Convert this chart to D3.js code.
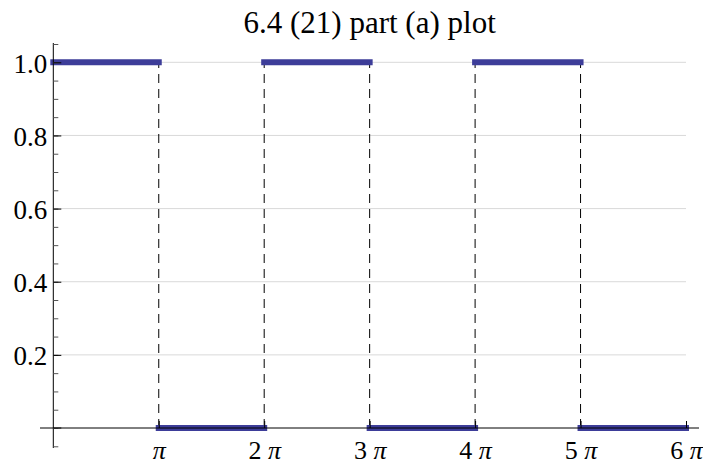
<!DOCTYPE html>
<html>
<head>
<meta charset="utf-8">
<script src="https://cdn.jsdelivr.net/npm/d3@7"></script>
<style>
  body { margin: 0; background: #fff; }
  svg { display: block; }
  text { font-family: "Liberation Serif", "Times New Roman", serif; fill: #000; }
</style>
</head>
<body>
<script>
// ---- data ----
const title = "6.4 (21) part (a) plot";
const segStarts = [0, 1, 2, 3, 4, 5];     // in multiples of π
const segEnds   = [1, 2, 3, 4, 5, 6];     // in multiples of π
const segValues = [1, 0, 1, 0, 1, 0];
const jumps     = [1, 2, 3, 4, 5];        // discontinuities (multiples of π)
const xTicks    = [1, 2, 3, 4, 5, 6];
const xTickLabels = ["π", "2 π", "3 π", "4 π", "5 π", "6 π"];
const yTicks    = [0.2, 0.4, 0.6, 0.8, 1.0];
const yMinor    = d3.range(-1, 22).map(i => i * 0.05);

const W = 703, H = 465;
const PI = Math.PI;

const x = d3.scaleLinear().domain([0, 6 * PI]).range([53.3, 686]);
const y = d3.scaleLinear().domain([0, 1]).range([428, 62.3]);

const svg = d3.select("body").append("svg").attr("width", W).attr("height", H);

// title
svg.append("text")
  .attr("x", (x(0) + x(6 * PI)) / 2).attr("y", 33)
  .attr("text-anchor", "middle")
  .style("font-size", "31px")
  .text(title);

// gridlines
svg.append("g").selectAll("line").data(yTicks).join("line")
  .attr("x1", x(0)).attr("x2", x(6 * PI))
  .attr("y1", d => y(d)).attr("y2", d => y(d))
  .attr("stroke", "#d9d9d9").attr("stroke-width", 1);

// dashed jump lines
svg.append("g").selectAll("line").data(jumps).join("line")
  .attr("x1", d => x(d * PI)).attr("x2", d => x(d * PI))
  .attr("y1", y(0)).attr("y2", y(1))
  .attr("stroke", "#000").attr("stroke-width", 1)
  .attr("stroke-dasharray", "9,6");

// segments
const segs = segStarts.map((s, i) => ({ a: s * PI, b: segEnds[i] * PI, v: segValues[i] }));
svg.append("g").selectAll("line").data(segs).join("line")
  .attr("x1", d => x(d.a)).attr("x2", d => x(d.b))
  .attr("y1", d => y(d.v)).attr("y2", d => y(d.v))
  .attr("stroke", "#3d3d99").attr("stroke-width", 6)
  .attr("stroke-linecap", "square");

// x axis line
svg.append("line")
  .attr("x1", 40).attr("x2", 699)
  .attr("y1", y(0)).attr("y2", y(0))
  .attr("stroke", "#000").attr("stroke-width", 1);

// y axis line
svg.append("line")
  .attr("x1", x(0)).attr("x2", x(0))
  .attr("y1", 43).attr("y2", 448)
  .attr("stroke", "#000").attr("stroke-width", 1);

// x axis ticks (upward) and labels
const xAxis = d3.axisBottom(x)
  .tickValues(xTicks.map(d => d * PI))
  .tickSizeInner(-7).tickSizeOuter(0).tickPadding(0)
  .tickFormat("");
const gx = svg.append("g").attr("transform", `translate(0,${y(0)})`).call(xAxis);
gx.select(".domain").remove();
gx.attr("font-family", null).attr("font-size", null);
gx.selectAll(".tick line").attr("stroke", "#000");
gx.selectAll(".tick text").each(function(d, i) {
  const t = d3.select(this).attr("y", 31).attr("dy", null)
    .style("font-size", "26px").attr("fill", "#000");
  const lab = xTickLabels[i];
  const parts = lab.split("π");
  if (parts[0]) t.append("tspan").text(parts[0]);
  t.append("tspan").style("font-style", "italic").text("π");
});

// y minor ticks
const yMinorAxis = d3.axisLeft(y).tickValues(yMinor).tickSizeInner(-5).tickSizeOuter(0).tickFormat("");
const gym = svg.append("g").attr("transform", `translate(${x(0)},0)`).call(yMinorAxis);
gym.select(".domain").remove();
gym.selectAll(".tick line").attr("stroke", "#555");

// y major ticks & labels
const yAxis = d3.axisLeft(y).tickValues(yTicks).tickSizeInner(-8).tickSizeOuter(0).tickPadding(6)
  .tickFormat(d3.format(".1f"));
const gy = svg.append("g").attr("transform", `translate(${x(0)},0)`).call(yAxis);
gy.select(".domain").remove();
gy.attr("font-family", null).attr("font-size", null);
gy.selectAll(".tick line").attr("stroke", "#000");
gy.selectAll(".tick text").attr("dy", "10px").style("font-size", "27px").attr("fill", "#000");

// zero major tick on y axis
svg.append("line")
  .attr("x1", x(0)).attr("x2", x(0) + 8)
  .attr("y1", y(0)).attr("y2", y(0))
  .attr("stroke", "#000");
</script>
</body>
</html>
